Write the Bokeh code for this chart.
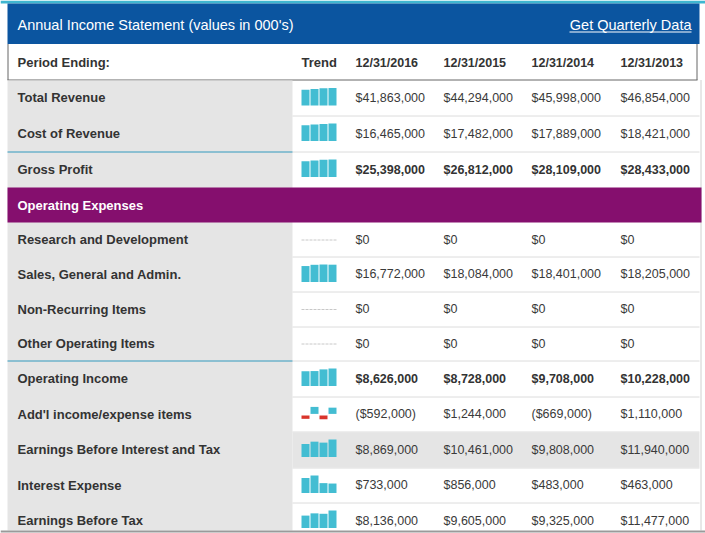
from bokeh.plotting import figure
from bokeh.models import Range1d, ColumnDataSource
from bokeh.core.properties import value
from bokeh.embed import file_html
from bokeh.resources import INLINE

# ---------------- data ----------------
title_text = "Annual Income Statement (values in 000's)"
link_text = "Get Quarterly Data"
period_label = "Period Ending:"
trend_label = "Trend"
periods = ["12/31/2016", "12/31/2015", "12/31/2014", "12/31/2013"]

labels = ["Total Revenue", "Cost of Revenue", "Gross Profit", "Operating Expenses",
          "Research and Development", "Sales, General and Admin.", "Non-Recurring Items",
          "Other Operating Items", "Operating Income", "Add'l income/expense items",
          "Earnings Before Interest and Tax", "Interest Expense", "Earnings Before Tax"]

total_revenue = [41863000, 44294000, 45998000, 46854000]
cost_of_revenue = [16465000, 17482000, 17889000, 18421000]
gross_profit = [25398000, 26812000, 28109000, 28433000]
research_development = [0, 0, 0, 0]
sales_general_admin = [16772000, 18084000, 18401000, 18205000]
non_recurring = [0, 0, 0, 0]
other_operating = [0, 0, 0, 0]
operating_income = [8626000, 8728000, 9708000, 10228000]
addl_income = [-592000, 1244000, -669000, 1110000]
ebit = [8869000, 10461000, 9808000, 11940000]
interest_expense = [733000, 856000, 483000, 463000]
ebt = [8136000, 9605000, 9325000, 11477000]

row_values = [total_revenue, cost_of_revenue, gross_profit, None,
              research_development, sales_general_admin, non_recurring,
              other_operating, operating_income, addl_income, ebit,
              interest_expense, ebt]
bold_rows = ["Gross Profit", "Operating Income"]
section_rows = ["Operating Expenses"]
highlight_rows = ["Earnings Before Interest and Tax"]

# ---------------- layout ----------------
W, H = 705, 533
X0, Y0 = 0, 0
FONT = value("Liberation Sans")
BLUE = "#0b55a0"
PURPLE = "#850f6e"
GRAY = "#e5e5e5"
TEAL = "#3399bd"
SPARK = "#43bdd2"
RED = "#d9342b"
TXT = "#333333"
VAL_TXT = "#3a3a3a"
row_bounds = [79.5, 115, 151, 187, 222, 256, 291, 326, 360, 396, 431, 467, 502, 530]
teal_after = ["Cost of Revenue", "Other Operating Items"]
LEFT = 7
LABEL_R = 292
RIGHT = 699
col_x = [355, 443, 531, 620]
spark_x0, spark_w, spark_pitch = 301, 8, 9

p = figure(width=W, height=H, x_range=Range1d(X0, X0 + W), y_range=Range1d(Y0 + H, Y0),
           output_backend="svg", toolbar_location=None, min_border=0,
           x_axis_location=None, y_axis_location=None)
p.grid.visible = False
p.outline_line_color = None
p.background_fill_color = "white"
p.border_fill_color = "white"

# top strip and header band
p.quad(left=[0], right=[W], top=[0], bottom=[3], fill_color="#3fb6d0", line_color=None)
p.quad(left=[LEFT], right=[RIGHT], top=[3], bottom=[43.5], fill_color=BLUE, line_color=None)
p.text(x=[17], y=[24], text=[title_text], text_font=FONT, text_font_size="14.5px",
       text_color="white", text_baseline="middle")
p.text(x=[691], y=[24], text=[link_text], text_font=FONT, text_font_size="14.5px",
       text_color="white", text_baseline="middle", text_align="right")
p.segment(x0=[569], y0=[31.5], x1=[691], y1=[31.5], line_color="white", line_width=1)

# column header row
p.segment(x0=[LEFT, LEFT + 0.5, RIGHT - 2.5], y0=[79.5, 43.5, 43.5],
          x1=[RIGHT - 2, LEFT + 0.5, RIGHT - 2.5], y1=[79.5, 79.5, 79.5],
          line_color="#666666", line_width=1)
hy = 62
p.text(x=[17, 301], y=[hy, hy], text=[period_label, trend_label], text_font=FONT,
       text_font_size="13px", text_font_style="bold", text_color=TXT, text_baseline="middle")
p.text(x=col_x, y=[hy] * 4, text=periods, text_font=FONT, text_font_size="12.5px",
       text_font_style="bold", text_color=TXT, text_baseline="middle")

# label column background
p.quad(left=[LEFT], right=[LABEL_R], top=[row_bounds[0] + 0.5], bottom=[row_bounds[-1]],
       fill_color=GRAY, line_color=None)
# right border of the table body
p.segment(x0=[RIGHT + 1.5], y0=[row_bounds[0]], x1=[RIGHT + 1.5], y1=[row_bounds[-1]],
          line_color="#d0d0d0", line_width=1)


def fmt(v):
    if v == 0:
        return "$0"
    if v < 0:
        return "(${:,})".format(-v)
    return "${:,}".format(v)


sep_x0, sep_y0, sep_x1, sep_y1 = [], [], [], []
for i, lab in enumerate(labels):
    top, bot = row_bounds[i], row_bounds[i + 1]
    cy = (top + bot) / 2
    if i == len(labels) - 1:
        cy = top + 18
    vals = row_values[i]
    if lab in section_rows:
        p.quad(left=[LEFT], right=[RIGHT + 2], top=[top], bottom=[bot], fill_color=PURPLE, line_color=None)
        p.text(x=[17], y=[cy], text=[lab], text_font=FONT, text_font_size="13px",
               text_font_style="bold", text_color="white", text_baseline="middle")
        continue
    if lab in highlight_rows:
        p.quad(left=[LABEL_R], right=[RIGHT], top=[top + 1], bottom=[bot],
               fill_color=GRAY, line_color=None)
    if i + 1 < len(labels) and labels[i + 1] not in section_rows:
        sep_x0.append(LABEL_R); sep_x1.append(RIGHT); sep_y0.append(bot + 0.5); sep_y1.append(bot + 0.5)
    p.text(x=[17], y=[cy], text=[lab], text_font=FONT, text_font_size="13px",
           text_font_style="bold", text_color=TXT, text_baseline="middle")
    is_bold = lab in bold_rows
    p.text(x=col_x, y=[cy] * 4, text=[fmt(v) for v in vals], text_font=FONT,
           text_font_size="12.5px",
           text_font_style="bold" if is_bold else "normal",
           text_color=TXT if is_bold else VAL_TXT, text_baseline="middle")

    # sparkline through its own range
    xs = [spark_x0 + j * spark_pitch + spark_w / 2 for j in range(4)]
    mx = max(abs(v) for v in vals)
    if mx == 0:
        p.segment(x0=[spark_x0], y0=[cy + 0.5], x1=[spark_x0 + 3 * spark_pitch + spark_w],
                  y1=[cy + 0.5], line_color="#c8c8c8", line_width=1, line_dash="3 1")
        continue
    has_neg = min(vals) < 0
    if has_neg:
        base_px = top + 18.2
        full_px = 7.0
    else:
        base_px = top + 25.5
        full_px = 17.5
    upp = mx / full_px  # units per pixel
    start = -(Y0 + H - base_px) * upp
    end = start + H * upp
    name = "spark%d" % i
    p.extra_y_ranges[name] = Range1d(start, end)
    gap = 0.8 * upp
    bottoms = [gap if v > 0 else -gap for v in vals] if has_neg else [0] * 4
    tops = [v + b for v, b in zip(vals, bottoms)]
    colors = [SPARK if v >= 0 else RED for v in vals]
    src = ColumnDataSource(dict(x=xs, top=tops, bottom=bottoms, color=colors))
    p.vbar(x="x", top="top", bottom="bottom", width=spark_w, fill_color="color",
           line_color=None, source=src, y_range_name=name)

p.segment(x0=sep_x0, y0=sep_y0, x1=sep_x1, y1=sep_y1, line_color="#dcdcdc", line_width=1)
for lab in teal_after:
    k = labels.index(lab) + 1
    p.segment(x0=[LEFT], y0=[row_bounds[k] + 0.5], x1=[LABEL_R], y1=[row_bounds[k] + 0.5],
              line_color=TEAL, line_width=1)

# bottom edge
p.segment(x0=[0], y0=[row_bounds[-1] + 1], x1=[W], y1=[row_bounds[-1] + 1],
          line_color="#9a9a9a", line_width=2)

open("out.html", "w").write(file_html(p, INLINE))
